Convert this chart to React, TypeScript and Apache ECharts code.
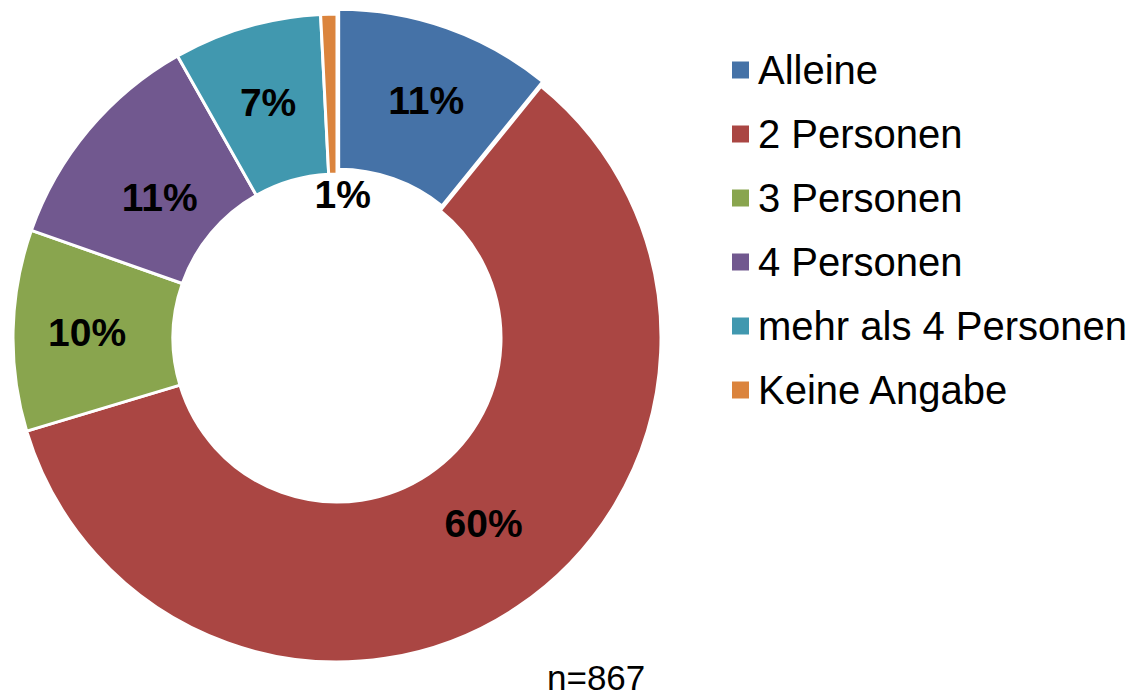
import React, { useEffect, useRef } from "react";
import * as echarts from "echarts";

const categories = ["Alleine", "2 Personen", "3 Personen", "4 Personen", "mehr als 4 Personen", "Keine Angabe"];
// estimated counts (n = 867), read from slice angles and percentage labels
const counts = [94, 516, 87, 99, 64, 7];
const colors = ["#4572A7", "#AA4643", "#89A54E", "#71588F", "#4198AF", "#DB843D"];
const sampleNote = "n=867";

// per-slice nudges of the percentage labels (Excel places them slightly off the mid-radius)
const labelNudge: [number, number][] = [[5, 0], [9, -20], [-3, 0], [12, 18], [0, 2], [12, 103]];

export default function App() {
  const ref = useRef<HTMLDivElement>(null);
  useEffect(() => {
    if (!ref.current) return;
    const chart = echarts.init(ref.current, undefined, { renderer: "svg" });
    const font = "'Liberation Sans', Arial, sans-serif";
    chart.setOption({
      animation: false,
      backgroundColor: "#fff",
      color: colors,
      title: {
        text: sampleNote,
        left: 547,
        top: 660,
        padding: 0,
        textStyle: { fontSize: 35, lineHeight: 34, fontWeight: "normal", color: "#000", fontFamily: font },
      },
      legend: {
        orient: "vertical",
        left: 730,
        top: 50,
        padding: 0,
        itemWidth: 19,
        itemHeight: 19,
        itemGap: 24,
        icon: "rect",
        selectedMode: false,
        data: categories,
        textStyle: { fontSize: 40, lineHeight: 40, color: "#000", fontFamily: font, padding: [0, 0, 0, 3] },
      },
      series: [
        {
          type: "pie",
          center: [337, 338],
          radius: [164, 324],
          startAngle: 90,
          clockwise: true,
          avoidLabelOverlap: false,
          percentPrecision: 0,
          selectedMode: "single",
          selectedOffset: 5,
          silent: true,
          itemStyle: { borderColor: "#fff", borderWidth: 3 },
          label: {
            show: true,
            position: "inside",
            formatter: "{d}%",
            fontSize: 39,
            fontWeight: "bold",
            color: "#000",
            fontFamily: font,
          },
          labelLine: { show: false },
          labelLayout: (p: any) => ({ dx: labelNudge[p.dataIndex][0], dy: labelNudge[p.dataIndex][1] }),
          emphasis: { disabled: true },
          data: categories.map((name, i) => ({
            name,
            value: counts[i],
            selected: i === 0,
          })),
        },
      ],
    });
    return () => chart.dispose();
  }, []);
  return (
    <div
      ref={ref}
      style={{ position: "fixed", left: 0, top: 0, width: 1133, height: 697 }}
    />
  );
}
